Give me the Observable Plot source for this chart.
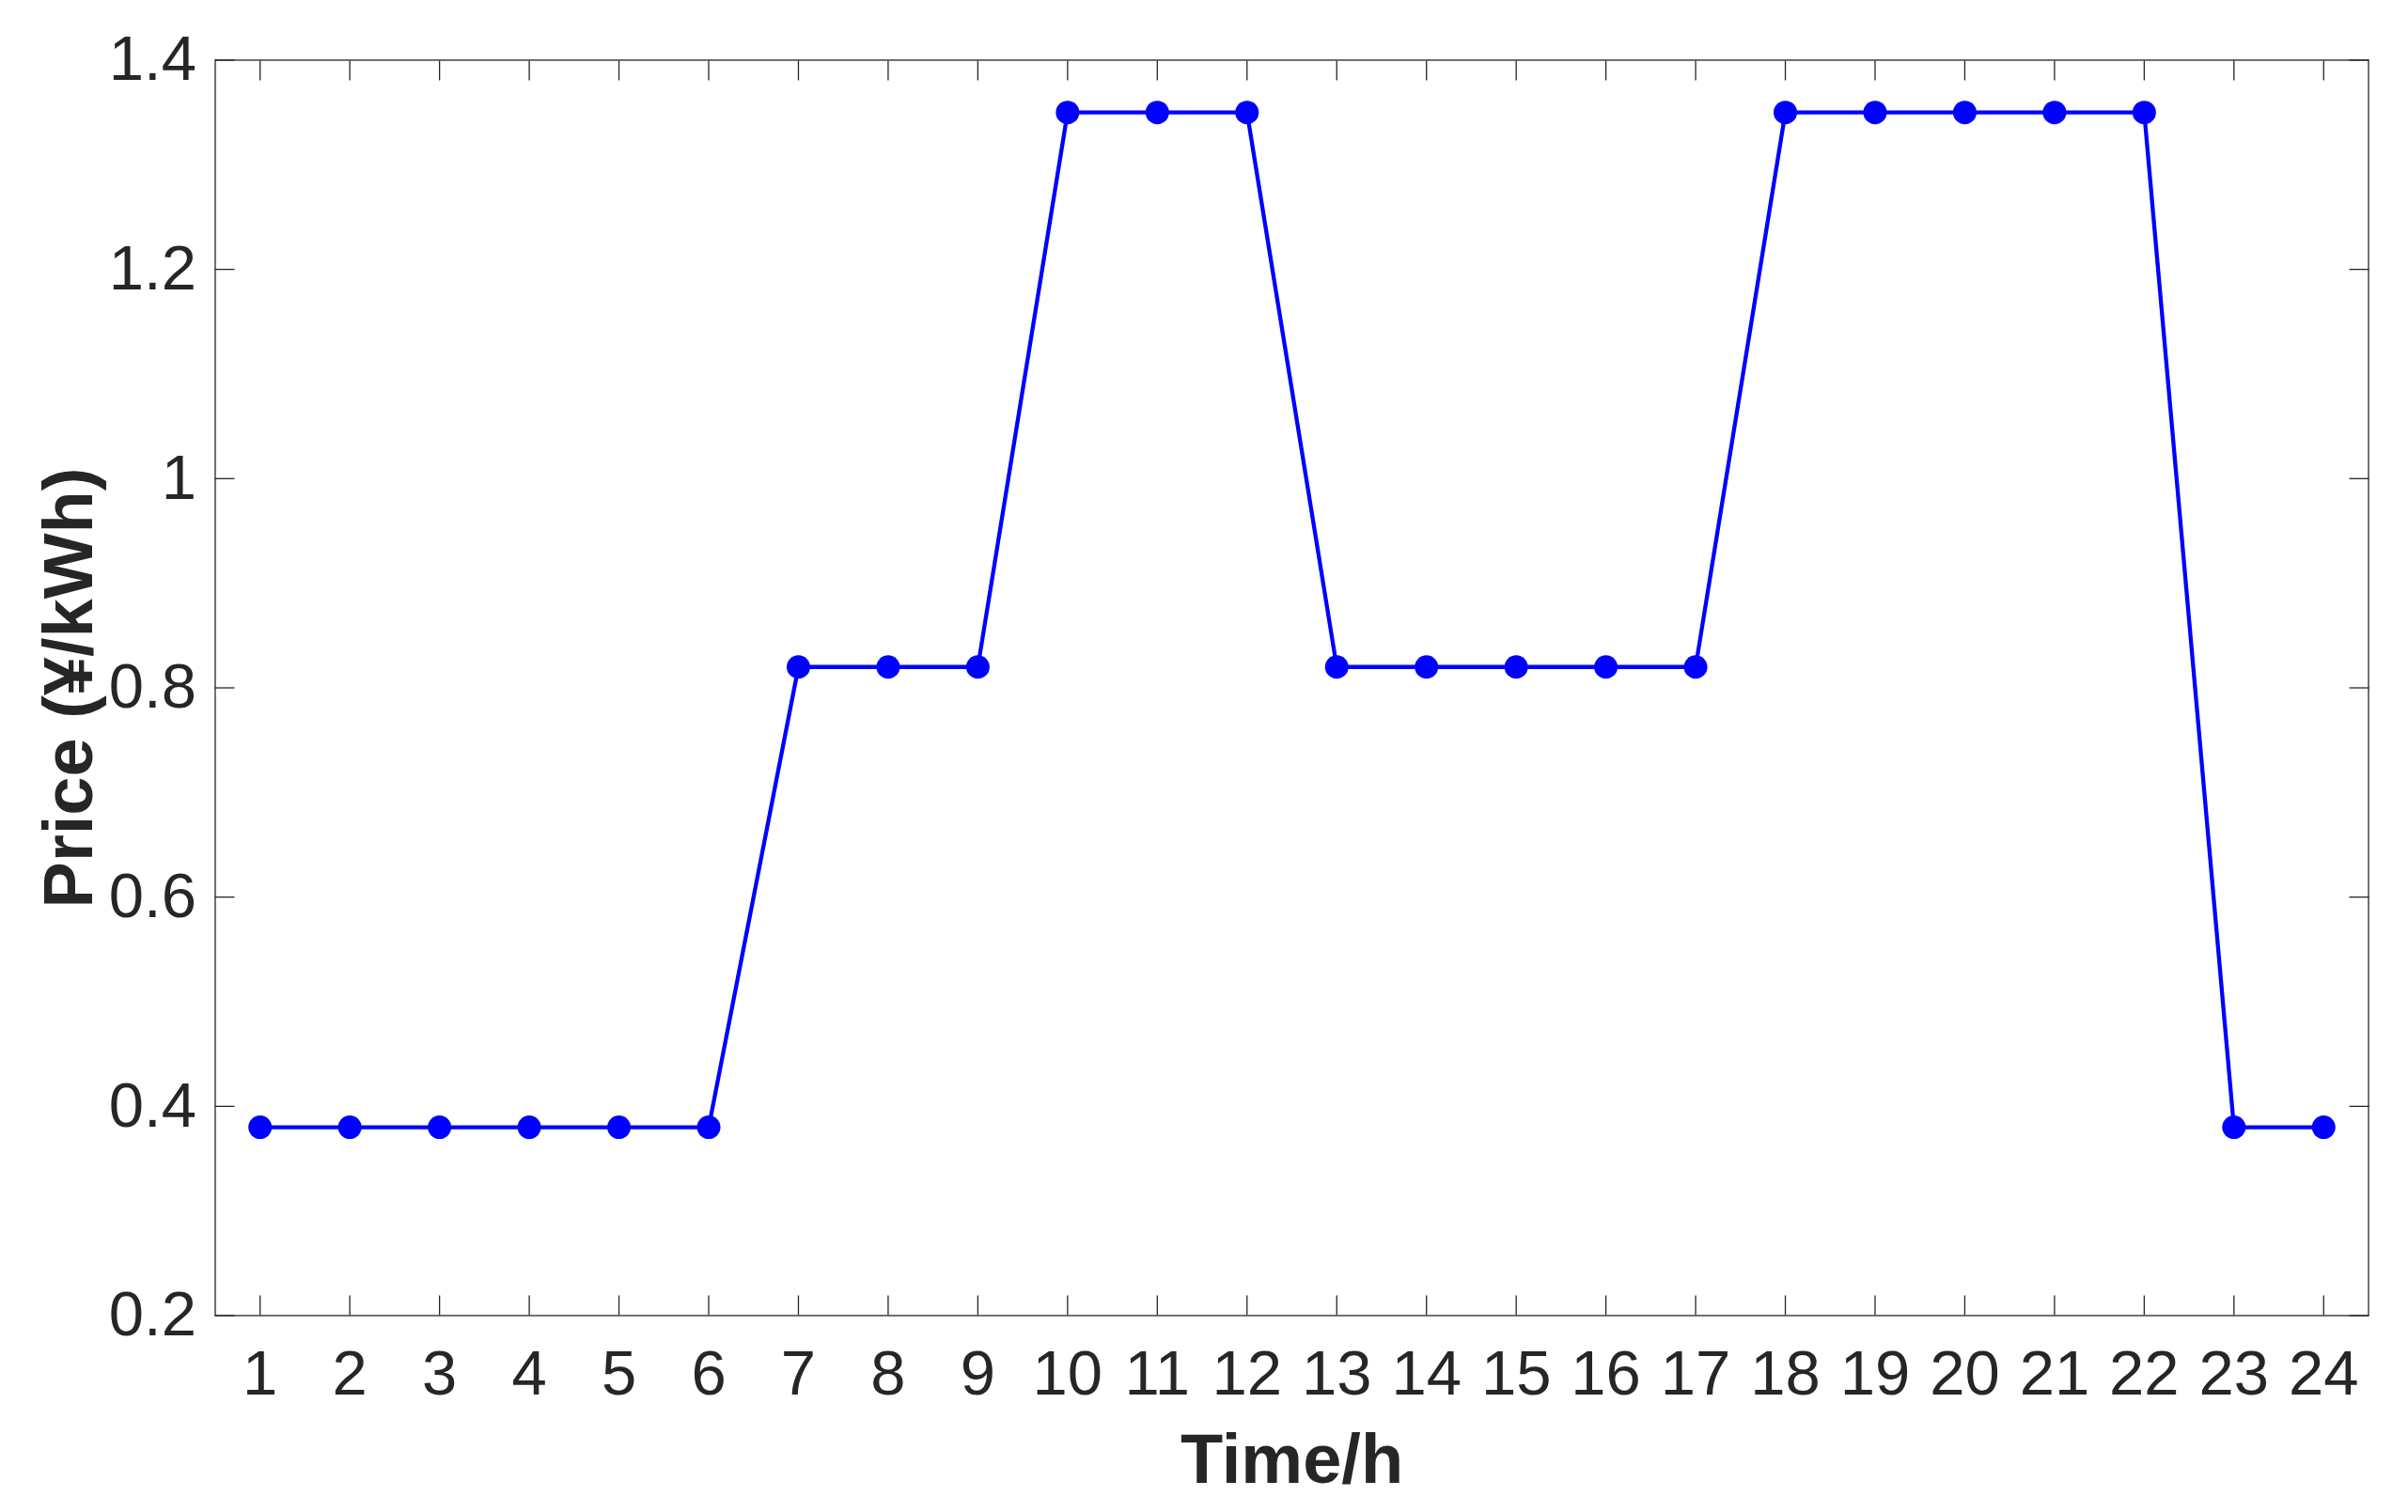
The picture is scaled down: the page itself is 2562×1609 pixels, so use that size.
<!DOCTYPE html>
<html>
<head>
<meta charset="utf-8">
<script src="https://cdn.jsdelivr.net/npm/d3@7"></script>
<script src="https://cdn.jsdelivr.net/npm/@observablehq/plot@0.6"></script>
<style>
  html, body { margin: 0; padding: 0; background: #fff; }
  #chart svg { display: block; }
</style>
</head>
<body>
<div id="chart"></div>
<script>
const hours = [1,2,3,4,5,6,7,8,9,10,11,12,13,14,15,16,17,18,19,20,21,22,23,24];
const prices = [0.38,0.38,0.38,0.38,0.38,0.38,0.82,0.82,0.82,1.35,1.35,1.35,0.82,0.82,0.82,0.82,0.82,1.35,1.35,1.35,1.35,1.35,0.38,0.38];
const yTicks = [0.2,0.4,0.6,0.8,1,1.2,1.4];
const xLabel = "Time/h";
const yLabel = "Price (¥/kWh)";

const data = hours.map((h, i) => ({hour: h, price: prices[i]}));
const ink = "#262626";
const tickLen = -21;

const chart = Plot.plot({
  width: 2562,
  height: 1609,
  marginLeft: 228.5,
  marginRight: 42.5,
  marginTop: 63.5,
  marginBottom: 209.5,
  style: {fontFamily: "'Liberation Sans', Arial, Helvetica, sans-serif", color: ink, background: "#fff"},
  x: {domain: [0.5, 24.5]},
  y: {domain: [0.2, 1.4]},
  marks: [
    // inward ticks on all four sides
    Plot.axisX(hours, {anchor: "bottom", tickSize: tickLen, tickFormat: () => "", label: null, stroke: ink, strokeWidth: 1.3}),
    Plot.axisX(hours, {anchor: "top", tickSize: tickLen, tickFormat: () => "", label: null, stroke: ink, strokeWidth: 1.3}),
    Plot.axisY(yTicks, {anchor: "left", tickSize: tickLen, tickFormat: () => "", label: null, stroke: ink, strokeWidth: 1.3}),
    Plot.axisY(yTicks, {anchor: "right", tickSize: tickLen, tickFormat: () => "", label: null, stroke: ink, strokeWidth: 1.3}),
    // tick labels
    Plot.axisX(hours, {anchor: "bottom", tickSize: 0, tickPadding: 36, fontSize: 67, label: null, fill: ink, tickFormat: d => String(d)}),
    Plot.axisY(yTicks, {anchor: "left", tickSize: 0, tickPadding: 20, fontSize: 67, label: null, fill: ink, tickFormat: d => String(d)}),
    Plot.frame({stroke: ink, strokeWidth: 1.3}),
    Plot.line(data, {x: "hour", y: "price", stroke: "#0000ff", strokeWidth: 4.3}),
    Plot.dot(data, {x: "hour", y: "price", r: 12.5, fill: "#0000ff", stroke: null}),
    // axis titles
    Plot.text([xLabel], {frameAnchor: "bottom", textAnchor: "middle", lineAnchor: "middle", dy: 154, text: d => d, fontSize: 74, fontWeight: "bold", fill: ink}),
    Plot.text([yLabel], {frameAnchor: "left", textAnchor: "middle", lineAnchor: "middle", dx: -155, rotate: -90, text: d => d, fontSize: 74, fontWeight: "bold", fill: ink})
  ]
});
document.getElementById("chart").appendChild(chart);
</script>
</body>
</html>
